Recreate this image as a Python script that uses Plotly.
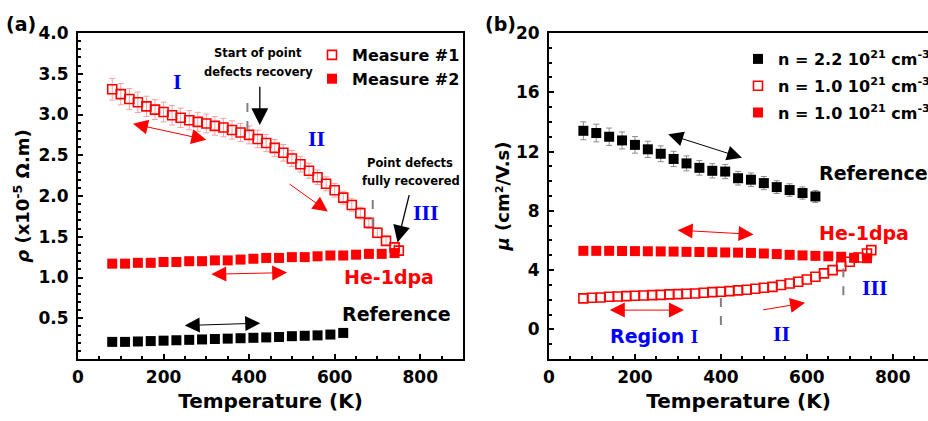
import plotly.graph_objects as go

# ---------------- data ----------------
# (a) resistivity, x10^-5 Ohm.m
temp_m1 = [80, 100, 120, 140, 160, 180, 200, 220, 240, 260, 280, 300, 320, 340, 360, 380, 400,
           420, 440, 460, 480, 500, 520, 540, 560, 580, 600, 620, 640, 660, 680, 700, 720, 740, 750]
rho_m1 = [3.31, 3.25, 3.19, 3.15, 3.10, 3.06, 3.03, 2.99, 2.96, 2.93, 2.91, 2.89, 2.86, 2.84, 2.81, 2.78, 2.75,
          2.70, 2.65, 2.59, 2.53, 2.46, 2.39, 2.31, 2.23, 2.15, 2.07, 1.98, 1.89, 1.79, 1.67, 1.55, 1.45, 1.37, 1.33]

temp_m2 = [80, 110, 140, 170, 200, 230, 260, 290, 320, 350, 380, 410, 440, 470, 500, 530,
           560, 590, 620, 650, 680, 710, 740]
rho_m2 = [1.17, 1.17, 1.18, 1.18, 1.19, 1.19, 1.20, 1.20, 1.21, 1.21, 1.22, 1.23, 1.24, 1.24, 1.25, 1.25,
          1.26, 1.27, 1.27, 1.28, 1.29, 1.29, 1.30]

temp_ref_a = [80, 110, 140, 170, 200, 230, 260, 290, 320, 350, 380, 410, 440, 470, 500, 530, 560, 590, 620]
rho_ref_a = [0.21, 0.21, 0.215, 0.22, 0.225, 0.23, 0.235, 0.24, 0.245, 0.25, 0.255, 0.26, 0.265, 0.27,
             0.28, 0.285, 0.29, 0.30, 0.32]

# (b) mobility, cm2/V.s
temp_ref_b = [80, 110, 140, 170, 200, 230, 260, 290, 320, 350, 380, 410, 440, 470, 500, 530, 560, 590, 620]
mu_ref_b = [13.4, 13.25, 13.0, 12.75, 12.45, 12.15, 11.85, 11.5, 11.2, 10.9, 10.7, 10.65, 10.2, 10.1,
            9.87, 9.6, 9.4, 9.2, 8.97]

temp_open_b = [80, 100, 120, 140, 160, 180, 200, 220, 240, 260, 280, 300, 320, 340, 360, 380, 400,
               420, 440, 460, 480, 500, 520, 540, 560, 580, 600, 620, 640, 660, 680, 700, 720, 740, 750]
mu_open_b = [2.09, 2.13, 2.15, 2.20, 2.22, 2.24, 2.27, 2.29, 2.31, 2.33, 2.36, 2.38, 2.40, 2.42, 2.47, 2.51, 2.54,
             2.58, 2.63, 2.67, 2.74, 2.81, 2.87, 2.99, 3.10, 3.21, 3.37, 3.55, 3.78, 4.00, 4.27, 4.56, 4.85, 5.12, 5.35]

temp_fill_b = [80, 110, 140, 170, 200, 230, 260, 290, 320, 350, 380, 410, 440, 470, 500, 530,
               560, 590, 620, 650, 680, 710, 740]
mu_fill_b = [5.30, 5.30, 5.30, 5.29, 5.28, 5.27, 5.26, 5.25, 5.23, 5.22, 5.21, 5.19, 5.18, 5.16, 5.12, 5.08,
             5.03, 4.99, 4.96, 4.93, 4.90, 4.83, 4.80]

x_ticks = [0, 200, 400, 600, 800]
rho_ticks = [0.5, 1.0, 1.5, 2.0, 2.5, 3.0, 3.5, 4.0]
mu_ticks = [0, 4, 8, 12, 16, 20]

# ---------------- style ----------------
FONT = "DejaVu Sans"
RED = "#ff0000"
BLUE = "#0000ff"
PINK = "#f4a3a3"
GREY = "#8a8a8a"
W, H = 928, 421
MT, MB = 33, 62
PH = H - MT - MB

fig = go.Figure()

fig.add_trace(go.Scatter(
    x=temp_m1, y=rho_m1, mode="markers", name="Measure #1", legend="legend",
    marker=dict(symbol="square-open", size=9, color=RED, line=dict(width=1.6)),
    error_y=dict(type="percent", value=4, color=PINK, thickness=1, width=3),
    xaxis="x", yaxis="y"))
fig.add_trace(go.Scatter(
    x=temp_m2, y=rho_m2, mode="markers", name="Measure #2", legend="legend",
    marker=dict(symbol="square", size=10, color=RED, line=dict(width=0)),
    xaxis="x", yaxis="y"))
fig.add_trace(go.Scatter(
    x=temp_ref_a, y=rho_ref_a, mode="markers", showlegend=False,
    marker=dict(symbol="square", size=10, color="black", line=dict(width=0)),
    xaxis="x", yaxis="y"))

fig.add_trace(go.Scatter(
    x=temp_ref_b, y=mu_ref_b, mode="markers", name="n = 2.2 10<sup>21</sup> cm<sup>-3</sup>",
    legend="legend2", legendgroup="g1",
    marker=dict(symbol="square", size=10, color="black", line=dict(width=0)),
    error_y=dict(type="percent", value=4.5, color=GREY, thickness=1, width=3),
    xaxis="x2", yaxis="y2"))
fig.add_trace(go.Scatter(
    x=temp_open_b, y=mu_open_b, mode="markers", name="n = 1.0 10<sup>21</sup> cm<sup>-3</sup>",
    legend="legend2", legendgroup="g2",
    marker=dict(symbol="square-open", size=9, color=RED, line=dict(width=1.6)),
    xaxis="x2", yaxis="y2"))
fig.add_trace(go.Scatter(
    x=temp_fill_b, y=mu_fill_b, mode="markers", name="n = 1.0 10<sup>21</sup> cm<sup>-3</sup>",
    legend="legend2", legendgroup="g3",
    marker=dict(symbol="square", size=10, color=RED, line=dict(width=0)),
    xaxis="x2", yaxis="y2"))

tickfont = dict(family=FONT, size=17, color="black", weight="bold")
titlefont = dict(family=FONT, size=20, color="black", weight="bold")
ytitlefont = dict(family=FONT, size=18, color="black", weight="bold")


def axis(**kw):
    base = dict(showline=True, linecolor="black", linewidth=2, ticks="inside", ticklen=5,
                tickwidth=1.5, tickcolor="black", showgrid=False, zeroline=False,
                automargin=False, tickfont=tickfont)
    base.update(kw)
    return base


minor_x = dict(ticks="inside", ticklen=3, tickwidth=1.5, tickcolor="black", dtick=50, tick0=0, showgrid=False)

fig.update_layout(
    width=W, height=H, margin=dict(l=0, r=0, t=MT, b=MB, autoexpand=False),
    paper_bgcolor="white", plot_bgcolor="white", font=dict(family=FONT),
    xaxis=axis(domain=[78 / W, 463 / W], range=[0, 900], tickvals=x_ticks, mirror=True, anchor="y",
               minor=minor_x, ticklabelstandoff=2,
               title=dict(text="Temperature (K)", font=titlefont, standoff=8)),
    yaxis=axis(domain=[0, 1], range=[0, 4.0], tickvals=rho_ticks,
               ticktext=[f"{v:.1f}" for v in rho_ticks], mirror=True, anchor="x",
               ticklabelstandoff=4,
               minor=dict(ticks="inside", ticklen=3, tickwidth=1.5, tickcolor="black", dtick=0.1, tick0=0,
                          showgrid=False),
               title=dict(text="<i>ρ</i> (x10<sup>-5</sup> Ω.m)", font=ytitlefont, standoff=4)),
    xaxis2=axis(domain=[549 / W, 1], range=[0, 882], tickvals=x_ticks, mirror=True, anchor="y2",
                minor=minor_x, ticklabelstandoff=2,
                title=dict(text="Temperature (K)", font=titlefont, standoff=8)),
    yaxis2=axis(domain=[0, 1], range=[-2, 20], tickvals=mu_ticks, mirror=False, anchor="x2",
                ticklabelstandoff=4,
                minor=dict(ticks="inside", ticklen=3, tickwidth=1.5, tickcolor="black", dtick=1, tick0=0,
                           showgrid=False),
                title=dict(text="<i>μ</i> (cm²/V.s)", font=ytitlefont, standoff=2)),
    legend=dict(x=312 / W, y=1 - (38 - MT) / PH, xanchor="left", yanchor="top",
                bgcolor="rgba(0,0,0,0)", font=dict(family=FONT, size=16, color="black", weight="bold"),
                tracegroupgap=0),
    legend2=dict(x=738 / W, y=1 - (42 - MT) / PH, xanchor="left", yanchor="top",
                 bgcolor="rgba(0,0,0,0)", font=dict(family=FONT, size=16, color="black", weight="bold"),
                 tracegroupgap=3),
)


def arrow(xr, yr, x0, y0, x1, y1, color, both=False, width=1.0, size=3.0):
    fig.add_annotation(xref=xr, yref=yr, axref=xr, ayref=yr, x=x1, y=y1, ax=x0, ay=y0,
                       text="", showarrow=True, arrowhead=2, arrowsize=size, arrowwidth=width,
                       arrowcolor=color, arrowside="end+start" if both else "end")


def label(xr, yr, x, y, text, size, color="black", family=FONT, bold=True):
    fig.add_annotation(xref=xr, yref=yr, x=x, y=y, text=text, showarrow=False,
                       xanchor="center", yanchor="middle",
                       font=dict(family=family, size=size, color=color,
                                 weight="bold" if bold else "normal"))


def vdash(xr, yr, x, y0, y1):
    fig.add_shape(type="line", xref=xr, yref=yr, x0=x, x1=x, y0=y0, y1=y1,
                  line=dict(color="#808080", width=2, dash="dash"))


# ----- panel (a) -----
arrow("x", "y", 125, 2.89, 300, 2.69, RED, both=True)
arrow("x", "y", 491, 2.16, 584, 1.81, RED)
arrow("x", "y", 425, 3.36, 425, 2.87, "black", width=1.3, size=2.6)
arrow("x", "y", 775, 2.03, 747, 1.43, "black", width=1.3, size=2.6)
arrow("x", "y", 308, 1.04, 489, 1.06, RED, both=True)
arrow("x", "y", 246, 0.41, 426, 0.44, "black", both=True)
vdash("x", "y", 396, 2.81, 3.14)
vdash("x", "y", 689, 1.62, 1.95)

label("x", "y", 233, 3.40, "I", 22, BLUE, "Liberation Serif")
label("x", "y", 557, 2.71, "II", 22, BLUE, "Liberation Serif")
label("x", "y", 814, 1.80, "III", 22, BLUE, "Liberation Serif")
label("x", "y", 420, 3.755, "Start of point", 11.5)
label("x", "y", 422, 3.52, "defects recovery", 11.5)
label("x", "y", 775, 2.41, "Point defects", 11.5)
label("x", "y", 779, 2.19, "fully recovered", 11.5)
label("x", "y", 726, 1.01, "He-1dpa", 19, RED)
label("x", "y", 745, 0.555, "Reference", 19)

# ----- panel (b) -----
arrow("x2", "y2", 274, 13.2, 449, 11.58, "black", both=True)
arrow("x2", "y2", 296, 6.70, 476, 6.41, RED, both=True)
arrow("x2", "y2", 138, 1.30, 314, 1.30, RED, both=True)
arrow("x2", "y2", 495, 1.30, 596, 1.79, RED)
vdash("x2", "y2", 400, 0.29, 2.20)
vdash("x2", "y2", 685, 2.31, 4.11)

label("x2", "y2", 755, 10.57, "Reference", 19)
label("x2", "y2", 734, 6.49, "He-1dpa", 19, RED)
label("x2", "y2", 759, 2.83, "III", 22, BLUE, "Liberation Serif")
label("x2", "y2", 541, -0.27, "II", 22, BLUE, "Liberation Serif")
label("x2", "y2", 244, -0.43,
      'Region <span style="font-family:Liberation Serif">I</span>', 19, BLUE)

# panel tags
for tag, px in (("(a)", 21), ("(b)", 500)):
    fig.add_annotation(xref="paper", yref="paper", x=px / W, y=1 + (MT - 24) / PH,
                       xanchor="center", yanchor="middle", text=tag, showarrow=False,
                       font=dict(family=FONT, size=19, color="black", weight="bold"))

fig.write_html("out.html")
